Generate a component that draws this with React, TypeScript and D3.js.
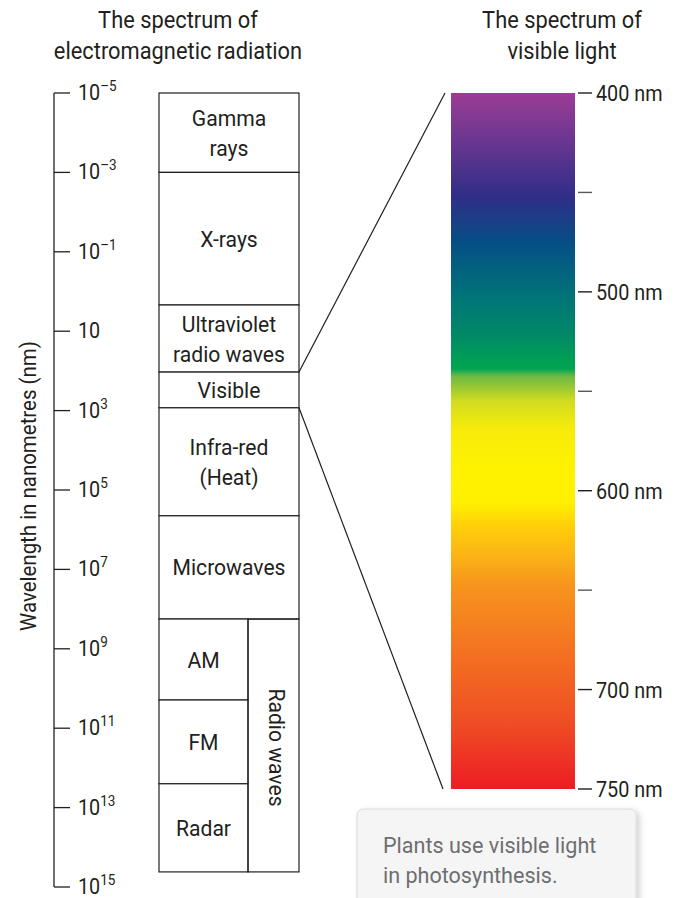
import React from "react";
import * as d3 from "d3";

const axisExponents = [-5, -3, -1, 1, 3, 5, 7, 9, 11, 13, 15];
const bandLabels = ["Gamma|rays", "X-rays", "Ultraviolet|radio waves", "Visible", "Infra-red|(Heat)", "Microwaves"];
const bandEdges = [-5, -3, 0.34, 2.03, 2.93, 5.65, 8.25];
const radioLabels = ["AM", "FM", "Radar"];
const radioEdges = [8.25, 10.29, 12.4, 14.62];
const radioGroupLabel = "Radio waves";
const visibleTicks = [400, 450, 500, 550, 600, 650, 700, 750];
const visibleTickLabels = ["400 nm", "", "500 nm", "", "600 nm", "", "700 nm", "750 nm"];
const visibleRange = [400, 750];

const gradientStops: [number, string][] = [
  [0, "#9b3d96"],
  [0.15, "#2f2e87"],
  [0.216, "#054f85"],
  [0.29, "#007378"],
  [0.35, "#008a66"],
  [0.387, "#00a152"],
  [0.396, "#00a452"],
  [0.407, "#6cb944"],
  [0.443, "#d2dc1f"],
  [0.483, "#f7ec0a"],
  [0.542, "#fff200"],
  [0.588, "#fff000"],
  [0.621, "#ffd00a"],
  [0.667, "#fbb216"],
  [0.707, "#f7941d"],
  [0.806, "#f37121"],
  [0.904, "#ef4e24"],
  [1, "#ed1c24"],
];

const FONT = "Roboto, 'DejaVu Sans Condensed', sans-serif";
const INK = "#231f20";

function T({ x, y, size = 22, anchor = "start", fill = INK, rotate = 0, sx = 0.96, children }: any) {
  return (
    <g transform={`translate(${x},${y}) rotate(${rotate}) scale(${sx},1)`}>
      <text x={0} y={0} fontSize={size} textAnchor={anchor} fill={fill}>
        {children}
      </text>
    </g>
  );
}

export default function App() {
  const W = 674, H = 898;
  const y = d3.scaleLinear().domain([-5, 15]).range([93, 887]);
  const yv = d3.scaleLinear().domain(visibleRange).range([93, 789]);
  const axisX = 54;
  const boxL = 159, boxR = 299, radioSplit = 248;
  const barL = 451, barR = 575;
  const lineHeight = 30;

  const visTop = y(bandEdges[3]);
  const visBot = y(bandEdges[4]);

  return (
    <svg width={W} height={H} style={{ position: "absolute", left: 0, top: 0 }} fontFamily={FONT}>
      <defs>
        <linearGradient id="vis" x1="0" y1="0" x2="0" y2="1">
          {gradientStops.map(([o, c], i) => (
            <stop key={i} offset={o} stopColor={c} />
          ))}
        </linearGradient>
        <filter id="shadow" x="-10%" y="-10%" width="130%" height="130%">
          <feDropShadow dx="3" dy="2" stdDeviation="3" floodColor="#000" floodOpacity="0.18" />
        </filter>
      </defs>

      {/* Titles */}
      <T x={178} y={28} size={23} sx={0.95} anchor="middle">The spectrum of</T>
      <T x={178} y={59} size={23} sx={0.95} anchor="middle">electromagnetic radiation</T>
      <T x={562} y={28} size={23} sx={0.95} anchor="middle">The spectrum of</T>
      <T x={562} y={59} size={23} sx={0.95} anchor="middle">visible light</T>

      {/* Y axis title */}
      <T x={36} y={(340 + 632) / 2} size={22} sx={0.93} anchor="middle" rotate={-90}>
        Wavelength in nanometres (nm)
      </T>

      {/* Left axis */}
      <line x1={axisX} x2={axisX} y1={y(-5)} y2={y(15)} stroke={INK} strokeWidth={1.3} />
      {axisExponents.map((e) => (
        <g key={e}>
          <line x1={axisX} x2={axisX + 16} y1={y(e)} y2={y(e)} stroke={INK} strokeWidth={1.3} />
          <T x={78} y={y(e) + 7} size={22} sx={0.9}>
            10
            {e !== 1 && (
              <tspan fontSize={15} dy={-9}>{e < 0 ? `\u2013${-e}` : `${e}`}</tspan>
            )}
          </T>
        </g>
      ))}

      {/* Main bands */}
      {bandLabels.map((lab, i) => {
        const y0 = y(bandEdges[i]);
        const y1 = y(bandEdges[i + 1]);
        const lines = lab.split("|");
        const cy = (y0 + y1) / 2 + 8 - ((lines.length - 1) * lineHeight) / 2;
        return (
          <g key={lab}>
            <rect x={boxL} y={y0} width={boxR - boxL} height={y1 - y0} fill="#fff" stroke={INK} strokeWidth={1.2} />
            {lines.map((l, j) => (
              <T key={j} x={(boxL + boxR) / 2} y={cy + j * lineHeight} anchor="middle">
                {l}
              </T>
            ))}
          </g>
        );
      })}

      {/* Radio bands */}
      {radioLabels.map((lab, i) => {
        const y0 = y(radioEdges[i]);
        const y1 = y(radioEdges[i + 1]);
        return (
          <g key={lab}>
            <rect x={boxL} y={y0} width={radioSplit - boxL} height={y1 - y0} fill="#fff" stroke={INK} strokeWidth={1.2} />
            <T x={(boxL + radioSplit) / 2} y={(y0 + y1) / 2 + 8} anchor="middle">
              {lab}
            </T>
          </g>
        );
      })}
      <rect
        x={radioSplit}
        y={y(radioEdges[0])}
        width={boxR - radioSplit}
        height={y(radioEdges[3]) - y(radioEdges[0])}
        fill="none"
        stroke={INK}
        strokeWidth={1.2}
      />
      <T
        x={(radioSplit + boxR) / 2 - 5}
        y={(y(radioEdges[0]) + y(radioEdges[3])) / 2 + 2}
        anchor="middle"
        rotate={90}
      >
        {radioGroupLabel}
      </T>

      {/* Connectors */}
      <line x1={boxR} y1={visTop} x2={445} y2={yv(visibleRange[0])} stroke={INK} strokeWidth={1.2} />
      <line x1={boxR} y1={visBot} x2={443} y2={yv(visibleRange[1])} stroke={INK} strokeWidth={1.2} />

      {/* Visible spectrum bar */}
      <rect x={barL} y={yv(visibleRange[0])} width={barR - barL} height={yv(visibleRange[1]) - yv(visibleRange[0])} fill="url(#vis)" />
      {visibleTicks.map((t, i) => (
        <g key={t}>
          <line
            x1={578}
            x2={592}
            y1={yv(t)}
            y2={yv(t)}
            stroke={visibleTickLabels[i] ? INK : "#58595b"}
            strokeWidth={1.4}
          />
          {visibleTickLabels[i] && (
            <T x={596} y={yv(t) + 8} size={22} sx={0.9}>
              {visibleTickLabels[i]}
            </T>
          )}
        </g>
      ))}

      {/* Note box */}
      <rect x={357} y={809} width={279} height={110} rx={6} ry={6} fill="#f5f5f5" stroke="#dcdcdc" strokeWidth={1} filter="url(#shadow)" />
      <T x={383} y={853} size={22} sx={0.98} fill="#6d6e71">Plants use visible light</T>
      <T x={383} y={883} size={22} sx={0.98} fill="#6d6e71">in photosynthesis.</T>
    </svg>
  );
}
